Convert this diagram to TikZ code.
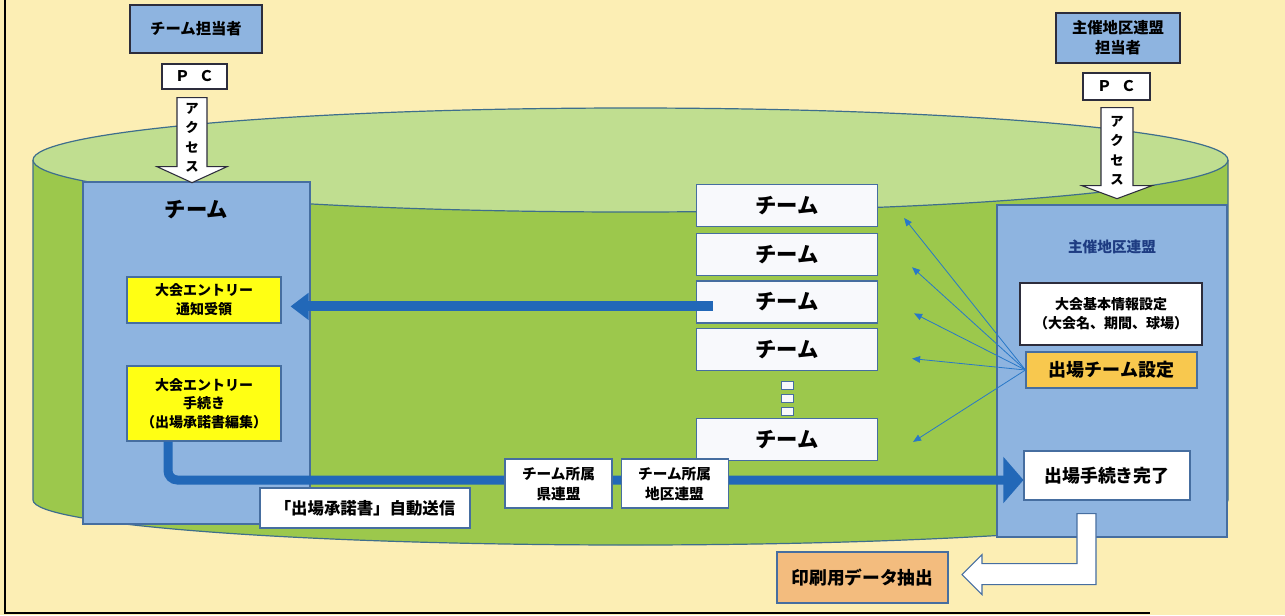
\documentclass[tikz,border=0pt]{standalone}
\usepackage{fontspec}
\setmainfont{Noto Sans CJK JP}
\usetikzlibrary{arrows.meta, calc, positioning}
\definecolor{Paper}{RGB}{252,238,180}
\definecolor{Body}{RGB}{156,200,76}
\definecolor{Lid}{RGB}{192,222,144}
\definecolor{Rim}{RGB}{62,110,140}
\definecolor{PanelBlue}{RGB}{142,180,224}
\definecolor{PanelEdge}{RGB}{70,110,160}
\definecolor{DarkEdge}{RGB}{45,45,60}
\definecolor{FlowBlue}{RGB}{34,104,184}
\definecolor{ThinBlue}{RGB}{40,120,200}
\definecolor{Notice}{RGB}{255,255,20}
\definecolor{Gold}{RGB}{248,200,78}
\definecolor{Peach}{RGB}{243,188,126}
\definecolor{TitleBlue}{RGB}{30,60,130}
\definecolor{TeamWhite}{RGB}{248,249,252}
\tikzset{%
  frame_line/.style={%
    draw=black,%
    line width=1.5pt,%
  },
  rim_line/.style={%
    draw=Rim,%
    line width=0.9pt,%
  },
  panel/.style={%
    rectangle,%
    draw=PanelEdge,%
    fill=PanelBlue,%
    line width=0.8pt,%
    inner sep=0pt,%
  },
  panel_title/.style={%
    inner sep=0pt,%
    font={\bfseries\fontsize{16}{18}\selectfont},%
  },
  who_box/.style={%
    rectangle,%
    draw=DarkEdge,%
    fill=PanelBlue,%
    line width=1pt,%
    inner sep=0pt,%
    minimum width=99pt,%
    minimum height=36pt,%
    align=center,%
    font={\bfseries\fontsize{11.5}{15}\selectfont},%
  },
  pc_box/.style={%
    rectangle,%
    draw=DarkEdge,%
    fill=white,%
    line width=1pt,%
    inner sep=0pt,%
    minimum width=48.75pt,%
    minimum height=18.75pt,%
    font={\bfseries\fontsize{11}{13}\selectfont},%
  },
  block_arrow/.style={%
    draw=DarkEdge,%
    fill=white,%
    line width=0.8pt,%
    line join=miter,%
  },
  access_text/.style={%
    inner sep=0pt,%
    align=center,%
    font={\bfseries\fontsize{10}{14.6}\selectfont},%
  },
  yellow_box/.style={%
    rectangle,%
    draw=PanelEdge,%
    fill=Notice,%
    line width=0.8pt,%
    inner sep=0pt,%
    minimum width=115.5pt,%
    align=center,%
    font={\bfseries\fontsize{10.5}{14}\selectfont},%
  },
  white_box/.style={%
    rectangle,%
    draw=PanelEdge,%
    fill=white,%
    line width=0.8pt,%
    inner sep=0pt,%
    align=center,%
    font={\bfseries\fontsize{11}{15}\selectfont},%
  },
  team_box/.style={%
    rectangle,%
    draw=PanelEdge,%
    fill=TeamWhite,%
    line width=0.9pt,%
    inner sep=0pt,%
    minimum width=135.75pt,%
    minimum height=31.5pt,%
    font={\bfseries\fontsize{16}{18}\selectfont},%
  },
  dot_box/.style={%
    rectangle,%
    draw=PanelEdge,%
    fill=TeamWhite,%
    line width=0.6pt,%
    inner sep=0pt,%
    minimum width=9pt,%
    minimum height=6pt,%
  },
  flow/.style={%
    draw=FlowBlue,%
    line width=6.75pt,%
    -{Triangle[length=15pt, width=33.75pt]},%
  },
  flow_thick/.style={%
    draw=FlowBlue,%
    line width=7.5pt,%
    -{Triangle[length=13.5pt, width=19.5pt]},%
  },
  notify/.style={%
    draw=ThinBlue,%
    line width=0.6pt,%
    -{Triangle[length=6pt, width=5pt]},%
  },
}
\begin{document}
\begin{tikzpicture}[x=0.75pt, y=-0.75pt]
    \useasboundingbox (0,0) rectangle (1285,615);
    \fill[Paper] (0,0) rectangle (1285,615);
    \draw[frame_line] (5,0) -- (5,613) -- (1150,613);

    % cylinder
    \fill[Body] (33,160) -- (33,500)
      arc[start angle=180, end angle=0, x radius=597.5, y radius=45]
      -- (1228,160) -- cycle;
    \draw[rim_line] (33,160) -- (33,500)
      arc[start angle=180, end angle=0, x radius=597.5, y radius=45]
      -- (1228,160);
    \draw[rim_line, fill=Lid] (630.5,160) ellipse[x radius=597.5, y radius=52];

    % team side
    \node[who_box] (teamCharge) at (196,29) {チーム担当者};
    \node[pc_box] (teamPC) at (194.5,76.5) {Ｐ\hspace{7pt}Ｃ};
    \node[panel, minimum width=170.25pt, minimum height=256.5pt] (teamPanel)
      at (196.5,353) {};
    \node[panel_title] (teamTitle) at ([yshift=-21pt]teamPanel.north) {チーム};
    \node[yellow_box, minimum height=34.5pt] (notice) at (204,300)
      {大会エントリー\\通知受領};
    \node[yellow_box, minimum height=56.25pt] (entry) at (204,403.5)
      {大会エントリー\\手続き\\（出場承諾書編集）};

    % host side
    \node[who_box, minimum width=93pt, minimum height=37.5pt] (hostCharge)
      at (1118,38) {主催地区連盟\\担当者};
    \node[pc_box, minimum width=50.25pt, minimum height=20.25pt] (hostPC)
      at (1116.5,86.5) {Ｐ\hspace{7pt}Ｃ};
    \node[panel, minimum width=172.5pt, minimum height=249pt] (hostPanel)
      at (1112,371) {};
    \node[panel_title, text=TitleBlue, font={\bfseries\fontsize{11}{13}\selectfont}]
      (hostTitle) at ([yshift=-31.5pt]hostPanel.north) {主催地区連盟};
    \node[white_box, draw=DarkEdge, line width=1.3pt, minimum width=136.5pt,
      minimum height=46.5pt, font={\bfseries\fontsize{10.5}{14.5}\selectfont}]
      (info) at (1111,314) {大会基本情報設定\\（大会名、期間、球場）};
    \node[white_box, fill=Gold, minimum width=128.25pt, minimum height=27pt,
      font={\bfseries\fontsize{13.5}{15}\selectfont}] (setTeam)
      at (1111.5,370) {出場チーム設定};
    \node[white_box, minimum width=124.5pt, minimum height=36.75pt,
      font={\bfseries\fontsize{13.4}{15}\selectfont}] (done)
      at (1107,475.5) {出場手続き完了};

    % access arrows
    \draw[block_arrow] ([shift={(-17.5,8)}]teamPC.south)
      -- ++(30,0) -- ++(0,69) -- ++(20,0) -- ++(-35,16)
      -- ++(-35,-16) -- ++(20,0) -- cycle;
    \node[access_text] (teamAccess) at ([shift={(-2.5,48)}]teamPC.south)
      {ア\\ク\\セ\\ス};
    \draw[block_arrow] ([shift={(-15.5,7)}]hostPC.south)
      -- ++(32,0) -- ++(0,78) -- ++(19,0) -- ++(-35,13)
      -- ++(-35,-13) -- ++(19,0) -- cycle;
    \node[access_text] (hostAccess) at ([shift={(0.5,50)}]hostPC.south)
      {ア\\ク\\セ\\ス};

    % teams
    \node[team_box] (T1) at (787,205.5) {チーム};
    \node[team_box, below=4.5pt of T1] (T2) {チーム};
    \node[team_box, below=3pt of T2] (T3) {チーム};
    \node[team_box, below=3pt of T3] (T4) {チーム};
    \node[dot_box, below=8pt of T4] (dot1) {};
    \node[dot_box, below=3pt of dot1] (dot2) {};
    \node[dot_box, below=3pt of dot2] (dot3) {};
    \node[team_box, below=1.5pt of dot3] (T5) {チーム};

    \coordinate (feedFrom) at ([shift={(17,4.5)}]T3.west);
    \draw[flow_thick] (feedFrom) -- ($(feedFrom -| notice.east)+(9,0)$);

    \draw[notify] (setTeam.west) -- ([shift={(26,12.5)}]T1.east);
    \draw[notify] (setTeam.west) -- ([shift={(34,12.5)}]T2.east);
    \draw[notify] (setTeam.west) -- ([shift={(36,11.5)}]T3.east);
    \draw[notify] (setTeam.west) -- ([shift={(34,9.5)}]T4.east);
    \draw[notify] (setTeam.west) -- ([shift={(35,2.5)}]T5.east);

    % entry flow
    \draw[flow, rounded corners=7pt]
      ([xshift=-27pt]entry.south)
      |-
      ([shift={(0,4.5)}]done.west);
    \node[white_box, minimum width=157.5pt, minimum height=30pt,
      font={\bfseries\fontsize{12.3}{14}\selectfont}] (autoSend)
      at (365,508) {「出場承諾書」自動送信};
    \node[white_box, minimum width=80.25pt, minimum height=36.75pt] (prefLeague)
      at (558.5,483.5) {チーム所属\\県連盟};
    \node[white_box, minimum width=80.25pt, minimum height=36.75pt,
      right=6pt of prefLeague] (distLeague) {チーム所属\\地区連盟};

    % print data
    \node[white_box, fill=Peach, minimum width=128.25pt, minimum height=38.25pt,
      font={\bfseries\fontsize{13.3}{15}\selectfont}] (printOut)
      at (862.5,577.5) {印刷用データ抽出};
    \coordinate (printFrom) at ([shift={(-30,13)}]done.south);
    \draw[block_arrow, draw=PanelEdge] (printFrom)
      -- ++(0,50) -- ++(-95,0) -- ++(0,-9) -- ++(-20,20)
      -- ++(20,20) -- ++(0,-10) -- ++(114,0) -- ++(0,-71) -- cycle;
\end{tikzpicture}
\end{document}
